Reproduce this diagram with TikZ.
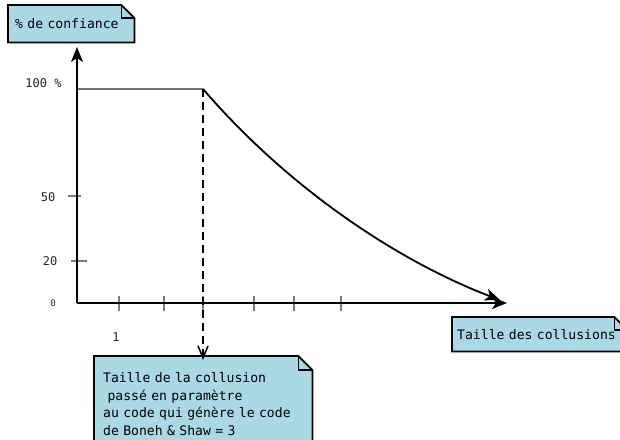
\documentclass[tikz,border=0pt]{standalone}
\usepackage{fontspec}
\newfontfamily\notefont{DejaVu Sans Mono}
\usetikzlibrary{arrows.meta}
\pgfdeclarelayer{background}
\pgfsetlayers{background,main}

\definecolor{notefill}{RGB}{170,216,228}
\definecolor{tickgrey}{RGB}{125,125,125}
\definecolor{levelgrey}{RGB}{115,115,115}

% note with a folded corner, drawn behind its text
\newcommand\dogear[2]{%
  \begin{pgfonlayer}{background}
    \draw[noteedge] (#1.north west) -- ([xshift=-#2]#1.north east)
      -- ([yshift=-#2]#1.north east) -- (#1.south east)
      -- (#1.south west) -- cycle;
    \draw[noteedge,fill=none] ([xshift=-#2]#1.north east)
      |- ([yshift=-#2]#1.north east);
  \end{pgfonlayer}}

\tikzset{
  noteedge/.style={draw=black,line width=1.8pt,fill=notefill,line join=miter},
  notetext/.style={font=\notefont\fontsize{13.1}{17.6}\selectfont,
    align=left,inner ysep=0pt,anchor=north west},
  ticklabel/.style={font=\notefont\fontsize{12}{14}\selectfont,text=black!85,inner sep=0pt},
  axisline/.style={line width=1.8pt,-{Stealth[length=15pt,width=12pt,inset=4pt]}},
  tickmark/.style={draw=tickgrey,line width=1.5pt},
  guide/.style={line width=1.8pt,dash pattern=on 8pt off 5pt,
    -{Straight Barb[length=12pt,width=10pt,line width=1.6pt]}},
}

\begin{document}
\begin{tikzpicture}[x=1pt,y=-1pt]
\useasboundingbox (0,0) rectangle (620,439);
\clip (0,0) rectangle (620,439);

% axes
\coordinate (origin) at (77,303);
\coordinate (ytip) at (77,47);
\coordinate (xtip) at (507,303);
\coordinate (peak) at (203,89);
\coordinate (tail) at (500,300);

% level line at 100 %
\draw[levelgrey,line width=1.8pt] (77,89) -- (peak);

% y ticks
\draw[tickmark] (68,196) -- (81,196);
\draw[tickmark] (71,261) -- (87,261);
% x ticks
\foreach \x in {119,164,203,254,294,341}
  \draw[tickmark] (\x,296) -- (\x,311);

\draw[axisline] (origin) -- (ytip);
\draw[axisline] (origin) -- (xtip);

% confidence curve
\draw[axisline] (peak) .. controls (290,190) and (400,262) .. (tail);

% tick labels
\node[ticklabel] (l100) at (43.5,83) {100 \%};
\node[ticklabel] (l50) at (48,197) {50};
\node[ticklabel] (l20) at (50,261) {20};
\node[ticklabel,font=\notefont\fontsize{9}{11}\selectfont] (l0) at (53,303) {0};
\node[ticklabel] (l1) at (116,337) {1};

% notes
\node[notetext,inner xsep=7pt,text width=112pt,minimum height=37pt]
  (conf) at (8,5) {\mbox{\% de confiance}};
\dogear{conf}{13pt}

\node[notetext,inner xsep=5pt,text width=165pt,minimum height=34pt]
  (taille) at (452,317) {\mbox{Taille des collusions}};
\dogear{taille}{13pt}

\node[notetext,inner xsep=9pt,text width=200pt,minimum height=96pt]
  (param) at (94,356) {\mbox{Taille de la collusion}\\
\mbox{\ passé en paramètre}\\
\mbox{au code qui génère le code}\\
\mbox{de Boneh \& Shaw = 3}};
\dogear{param}{14pt}

% guide from the break point down to the note
\draw[guide] (peak) -- ([yshift=-4pt]param.north -| peak);
\end{tikzpicture}
\end{document}
